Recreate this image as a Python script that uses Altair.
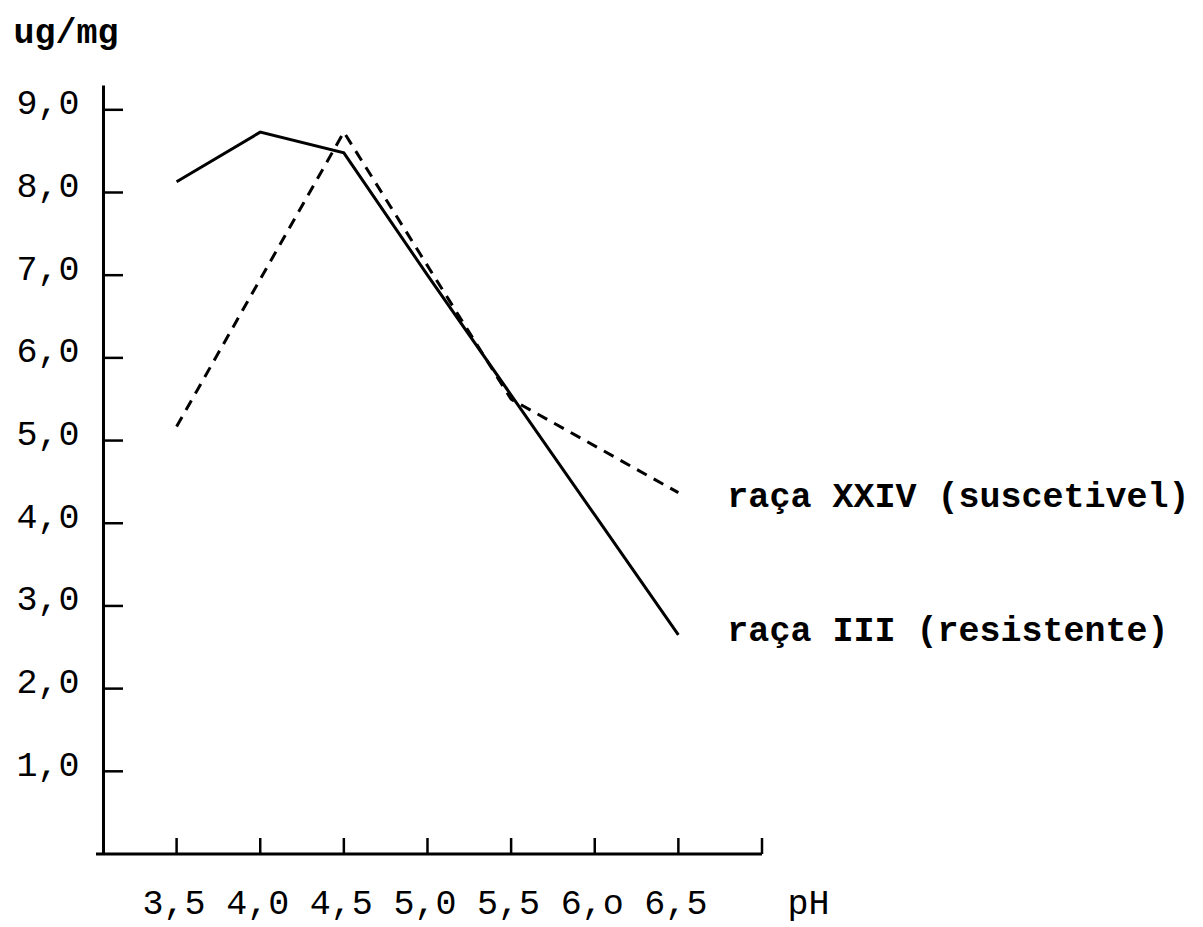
import json
import altair as alt
import pandas as pd

# ---- data ----
ph_iii = [3.5, 4.0, 4.5, 5.0, 5.5, 6.0, 6.5]
ug_iii = [8.13, 8.73, 8.48, 7.0, 5.55, 4.1, 2.65]

ph_xxiv = [3.5, 4.5, 5.5, 6.5]
ug_xxiv = [5.17, 8.73, 5.5, 4.37]

y_ticks = [1, 2, 3, 4, 5, 6, 7, 8, 9]
y_tick_labels = ["1,0", "2,0", "3,0", "4,0", "5,0", "6,0", "7,0", "8,0", "9,0"]

x_ticks = [3.5, 4.0, 4.5, 5.0, 5.5, 6.0, 6.5, 7.0]
x_label_values = [3.5, 4.0, 4.5, 5.0, 5.5, 6.0, 6.5]
x_tick_labels = ["3,5", "4,0", "4,5", "5,0", "5,5", "6,o", "6,5"]

label_xxiv = "raça XXIV (suscetivel)"
label_iii = "raça III (resistente)"

# ---- layout ----
W, H = 659, 769
FONT = "Liberation Mono"
FS = 35

df_iii = pd.DataFrame({"ph": ph_iii, "ug": ug_iii})
df_xxiv = pd.DataFrame({"ph": ph_xxiv, "ug": ug_xxiv})
df_yt = pd.DataFrame({"ug": y_ticks})
df_xt = pd.DataFrame({"ph": x_ticks})
df_lab_xxiv = pd.DataFrame({"ph": [ph_xxiv[-1]], "ug": [ug_xxiv[-1]], "t": [label_xxiv]})
df_lab_iii = pd.DataFrame({"ph": [ph_iii[-1]], "ug": [ug_iii[-1]], "t": [label_iii]})

x_label_expr = f"{json.dumps(x_tick_labels)}[indexof({json.dumps(x_label_values)}, datum.value)]"
y_label_expr = f"{json.dumps(y_tick_labels)}[indexof({json.dumps(y_ticks)}, datum.value)]"

x_enc = alt.X(
    "ph:Q",
    scale=alt.Scale(domain=[3.06, 7.0], nice=False, zero=False),
    axis=alt.Axis(
        values=x_label_values, labelExpr=x_label_expr, ticks=False, domain=False,
        grid=False, labelFont=FONT, labelFontSize=FS, labelColor="black",
        labelPadding=59, labelBaseline="alphabetic", labelOffset=-3,
        labelFlush=False, labelOverlap=False,
        title="pH", titleFont=FONT, titleFontSize=FS, titleFontWeight="normal",
        titleColor="black", titleX=684, titleY=59, titleAlign="left",
        titleBaseline="alphabetic",
    ),
)
y_enc = alt.Y(
    "ug:Q",
    scale=alt.Scale(domain=[0, 9.3], nice=False, zero=True),
    axis=alt.Axis(
        values=y_ticks, labelExpr=y_label_expr, ticks=False, domain=True,
        domainColor="black", domainWidth=3, grid=False,
        labelFont=FONT, labelFontSize=FS, labelColor="black",
        labelPadding=24, labelBaseline="alphabetic", labelOffset=4,
        labelFlush=False, labelOverlap=False,
        title="ug/mg", titleFont=FONT, titleFontSize=FS, titleFontWeight="bold",
        titleColor="black", titleAngle=0, titleX=-90, titleY=-43,
        titleAlign="left", titleBaseline="alphabetic",
    ),
)

line_iii = alt.Chart(df_iii).mark_line(color="black", strokeWidth=3).encode(x=x_enc, y=y_enc)
line_xxiv = alt.Chart(df_xxiv).mark_line(
    color="black", strokeWidth=3, strokeDash=[11, 8]
).encode(x=x_enc, y=y_enc)

y_tick_rules = alt.Chart(df_yt).mark_rule(color="black", strokeWidth=2.5).encode(
    y=y_enc, x=alt.value(0), x2=alt.value(20)
)
x_tick_rules = alt.Chart(df_xt).mark_rule(color="black", strokeWidth=2.5).encode(
    x=x_enc, y=alt.value(H), y2=alt.value(H - 16)
)
x_baseline = alt.Chart(df_xt.head(1)).mark_rule(color="black", strokeWidth=3).encode(
    x=alt.value(-7), x2=alt.value(W), y=alt.value(H)
)

text_xxiv = alt.Chart(df_lab_xxiv).mark_text(
    align="left", baseline="alphabetic", dx=49, dy=14, font=FONT, fontSize=FS,
    fontWeight="bold", color="black",
).encode(x=x_enc, y=y_enc, text="t:N")
text_iii = alt.Chart(df_lab_iii).mark_text(
    align="left", baseline="alphabetic", dx=49, dy=6, font=FONT, fontSize=FS,
    fontWeight="bold", color="black",
).encode(x=x_enc, y=y_enc, text="t:N")

chart = alt.layer(
    x_baseline, y_tick_rules, x_tick_rules, line_iii, line_xxiv, text_xxiv, text_iii
).properties(
    width=W, height=H,
    autosize=alt.AutoSizeParams(type="none"),
    padding={"left": 95, "top": 77, "right": 432, "bottom": 70},
    background="white",
).configure_view(stroke=None)

chart.save("out.html", embed_options={"renderer": "svg", "actions": False})
